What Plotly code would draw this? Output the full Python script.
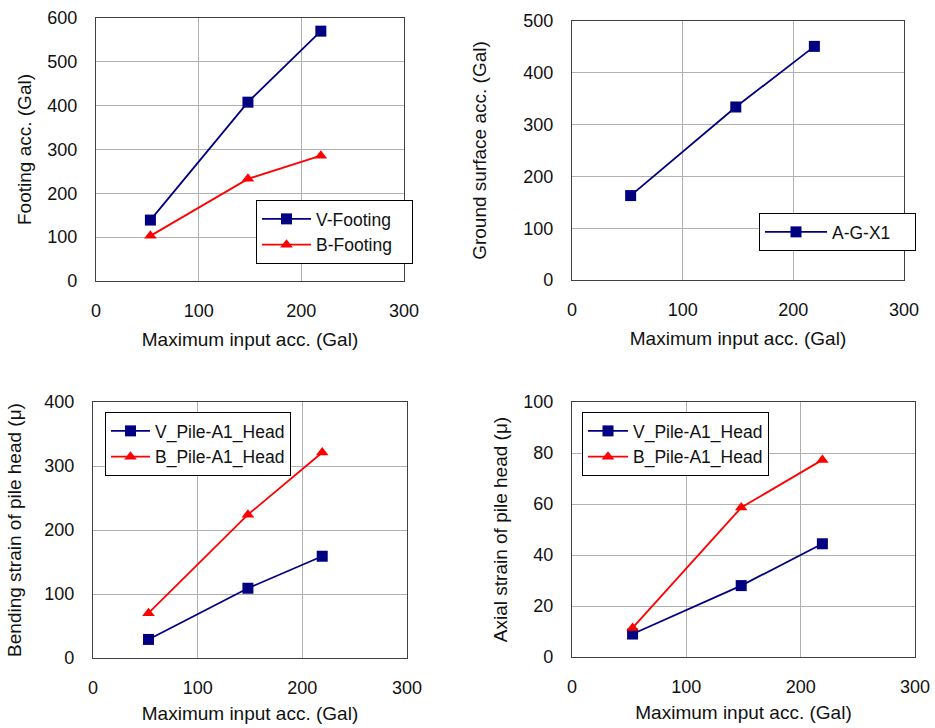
import plotly.graph_objects as go

# ---- data ----
input_acc = [53, 148, 219]

v_footing = [139, 408, 570]
b_footing = [103, 233, 286]

a_g_x1 = [163, 334, 451]

v_pile_bend = [29, 109, 159]
b_pile_bend = [70, 224, 321]

v_pile_axial = [9, 28, 44.4]
b_pile_axial = [11.4, 58.6, 77.3]

x_ticks = [0, 100, 200, 300]

NAVY = "#000080"
RED = "#FF0000"
FONT = "Liberation Sans, Arial, sans-serif"
PAD = "\u00a0\u00a0\u00a0"
PAD2 = "\u00a0\u00a0\u00a0\u00a0"

fig = go.Figure()

def add(x, y, name, color, symbol, xa, ya, legend):
    fig.add_trace(go.Scatter(
        x=x, y=y, name=name, mode="lines+markers",
        line=dict(color=color, width=1.8),
        marker=dict(symbol=symbol, size=11, color=color),
        xaxis=xa, yaxis=ya, legend=legend))

add(input_acc, v_footing, "V-Footing" + PAD, NAVY, "square", "x", "y", "legend")
add(input_acc, b_footing, "B-Footing" + PAD, RED, "triangle-up", "x", "y", "legend")
add(input_acc, a_g_x1, "A-G-X1" + PAD2, NAVY, "square", "x2", "y2", "legend2")
add(input_acc, v_pile_bend, "V_Pile-A1_Head", NAVY, "square", "x3", "y3", "legend3")
add(input_acc, b_pile_bend, "B_Pile-A1_Head", RED, "triangle-up", "x3", "y3", "legend3")
add(input_acc, v_pile_axial, "V_Pile-A1_Head", NAVY, "square", "x4", "y4", "legend4")
add(input_acc, b_pile_axial, "B_Pile-A1_Head", RED, "triangle-up", "x4", "y4", "legend4")

W, H = 935, 728
def fx(p): return p / W
def fy(p): return 1 - p / H

axis_common = dict(
    showgrid=True, gridcolor="#b0b0b0", gridwidth=1,
    showline=True, linecolor="#404040", linewidth=1.2, mirror=True,
    zeroline=False, ticks="outside", tickcolor="rgba(0,0,0,0)",
    automargin=False,
    tickfont=dict(size=18, color="#111", family=FONT),
    title_font=dict(size=19, color="#111", family=FONT),
)

def xaxis(domain, anchor, standoff):
    d = dict(axis_common)
    d.update(domain=domain, anchor=anchor, range=[0, 300], tickvals=x_ticks,
             ticklen=13, title=dict(text="Maximum input acc. (Gal)", standoff=standoff))
    return d

def yaxis(domain, anchor, rng, dtick, title, standoff):
    d = dict(axis_common)
    d.update(domain=domain, anchor=anchor, range=rng, dtick=dtick, ticklen=14,
             title=dict(text=title, standoff=standoff))
    return d

legend_common = dict(bgcolor="white", bordercolor="black", borderwidth=1,
                     font=dict(size=17.5, color="#111", family=FONT),
                     xanchor="left", yanchor="top", tracegroupgap=0)

fig.update_layout(
    width=W, height=H,
    margin=dict(l=0, r=0, t=0, b=0),
    paper_bgcolor="white", plot_bgcolor="white",
    font=dict(family=FONT, color="#111"),
    xaxis=xaxis([fx(96), fx(404)], "y", 12),
    yaxis=yaxis([fy(281), fy(18)], "x", [0, 600], 100, "Footing acc. (Gal)", 10),
    xaxis2=xaxis([fx(572), fx(904)], "y2", 12),
    yaxis2=yaxis([fy(280), fy(21)], "x2", [0, 500], 100, "Ground surface acc. (Gal)", 31),
    xaxis3=xaxis([fx(93), fx(407)], "y3", 9),
    yaxis3=yaxis([fy(658), fy(402)], "x3", [0, 400], 100, "Bending strain of pile head (μ)", 17),
    xaxis4=xaxis([fx(572), fx(915)], "y4", 9),
    yaxis4=yaxis([fy(657), fy(402)], "x4", [0, 100], 20, "Axial strain of pile head (μ)", 10),
    legend=dict(legend_common, x=fx(256), y=fy(200), itemwidth=49),
    legend2=dict(legend_common, x=fx(759), y=fy(213), itemwidth=62),
    legend3=dict(legend_common, x=fx(105), y=fy(412), itemwidth=39),
    legend4=dict(legend_common, x=fx(582), y=fy(412), itemwidth=40),
)

fig.write_html("out.html")
